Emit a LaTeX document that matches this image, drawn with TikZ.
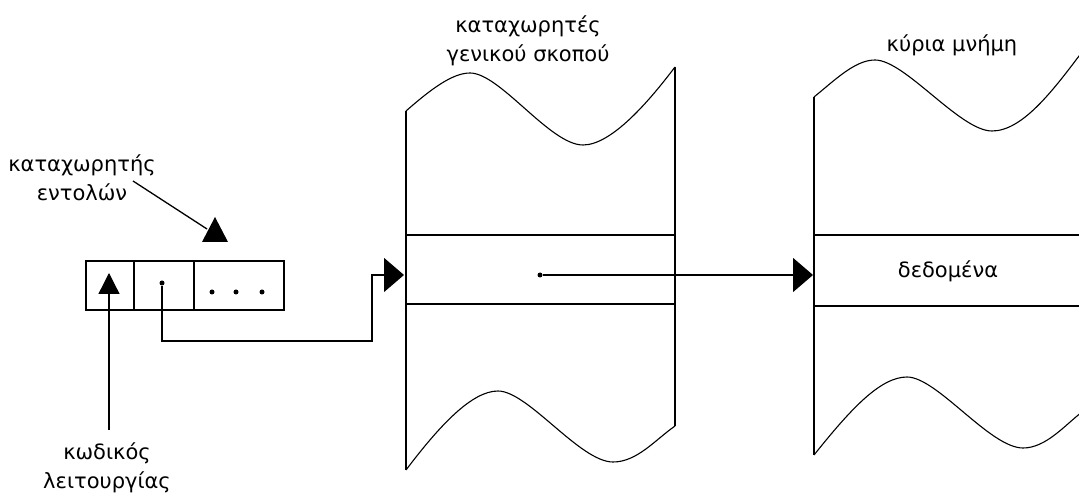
\documentclass[tikz,border=0pt]{standalone}
\usepackage{fontspec}
\setmainfont{DejaVu Sans}
\usetikzlibrary{arrows.meta}
\begin{document}
\begin{tikzpicture}[x=1pt,y=-1pt,line width=1.3pt,
  lbl/.style={font=\fontsize{21}{29}\selectfont,align=center,inner sep=0pt},
  cell/.style={draw,inner sep=0pt,minimum height=49pt},
  dotmark/.style={circle,fill,inner sep=0pt,minimum size=5pt},
  bigtip/.style={-{Triangle[length=20pt,width=34pt]}},
  uptip/.style={-{Triangle[length=21pt,width=21pt]}},
  wave/.style={line width=1.1pt}]
\useasboundingbox (0,0) rectangle (1079,502);
% instruction register
\node[cell,minimum width=48pt] (c1) at (110,285.5) {};
\node[cell,minimum width=60pt] (c2) at (164,285.5) {};
\node[cell,minimum width=90pt] (c3) at (239,285.5) {};
\node[dotmark] (d2) at (162,283) {};
\node[dotmark] (e1) at (212,292) {};
\node[dotmark] (e2) at (236,292) {};
\node[dotmark] (e3) at (262,292) {};
% labels
\node[lbl] (lblIR) at (82,178) {καταχωρητής\\εντολών};
\node[lbl] (lblOp) at (107,468) {κωδικός\\λειτουργίας};
\node[lbl] (lblGPR) at (528,41) {καταχωρητές\\γενικού σκοπού};
\node[lbl] (lblMem) at (952,45) {κύρια μνήμη};
\node[lbl] (data) at (948,271) {δεδομένα};
% IR pointer
\coordinate (irTop) at (215,217);
\coordinate (irLine) at (207,229);
\draw (133,181) -- (irLine);
\fill (irTop) -- (228,242) -- (202,242) -- cycle;
% opcode arrow
\coordinate (opTip) at (109,273);
\coordinate (opFoot) at (109,430);
\draw[uptip] (opFoot) -- (opTip);
% general purpose registers block
\draw[wave] (406,111) .. controls (430,90) and (452,73) .. (470,73)
  .. controls (500,73) and (550,145) .. (583,145)
  .. controls (612,145) and (650,100) .. (675,67);
\draw (406,111) -- (406,470);
\draw (675,67) -- (675,426);
\draw (406,235) -- (675,235);
\draw (406,304) -- (675,304);
\draw[wave] (406,470) .. controls (440,425) and (472,391) .. (498,391)
  .. controls (528,391) and (580,462) .. (613,462)
  .. controls (637,462) and (655,440) .. (675,426);
\coordinate (gprIn) at (404,275);
\coordinate (k1) at (372,341);
\draw[bigtip] (d2) |- (k1) |- (gprIn);
\node[dotmark] (d3) at (540,275) {};
% main memory block
\draw[wave] (814,97) .. controls (835,80) and (855,60) .. (875,60)
  .. controls (905,60) and (960,131) .. (992,131)
  .. controls (1022,131) and (1052,92) .. (1082,52);
\draw (814,97) -- (814,455);
\draw (814,235) -- (1079,235);
\draw (814,306) -- (1079,306);
\draw[wave] (814,455) .. controls (850,410) and (880,377) .. (907,377)
  .. controls (937,377) and (990,448) .. (1023,448)
  .. controls (1046,448) and (1065,425) .. (1082,412);
\coordinate (memIn) at (813,275);
\draw[bigtip] (d3) -- (memIn);
\end{tikzpicture}
\end{document}
